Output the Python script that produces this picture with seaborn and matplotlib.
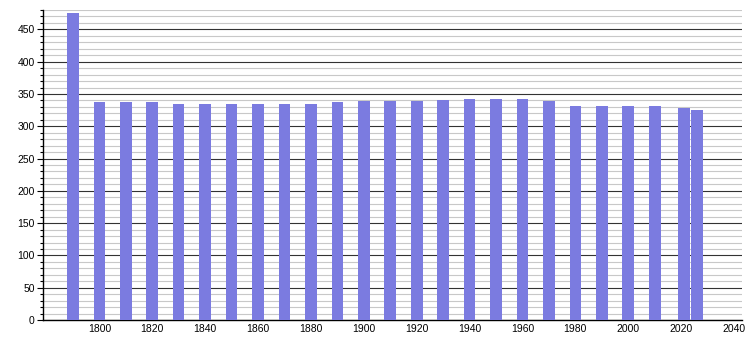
import matplotlib
matplotlib.use("Agg")
import matplotlib.pyplot as plt
import seaborn as sns
import pandas as pd
from matplotlib.ticker import MultipleLocator

years = [1790, 1800, 1810, 1820, 1830, 1840, 1850, 1860, 1870, 1880, 1890,
         1900, 1910, 1920, 1930, 1940, 1950, 1960, 1970, 1980, 1990, 2000,
         2010, 2021, 2026]
population = [475, 337, 337, 337, 335, 335, 335, 335, 335, 335, 337,
              339, 339, 339, 340, 342, 342, 342, 339, 331, 332, 332,
              332, 328, 325]
x_ticks = [1800, 1820, 1840, 1860, 1880, 1900, 1920, 1940, 1960, 1980, 2000, 2020, 2040]

df = pd.DataFrame({"year": years, "pop": population})

sns.set_style("white")
plt.rcParams["font.family"] = ["Liberation Sans", "DejaVu Sans"]

fig = plt.figure(figsize=(7.5, 3.4), dpi=100)
ax = fig.add_axes([43 / 750, 20 / 340, (742 - 43) / 750, (320 - 10) / 340])

sns.barplot(data=df, x="year", y="pop", native_scale=True, width=0.88,
            color="#7b7be0", saturation=1, edgecolor="none", linewidth=0, ax=ax, zorder=3)

ax.set_xlim(1778.7, 2043)
ax.set_ylim(0, 480)
ax.yaxis.set_major_locator(MultipleLocator(50))
ax.yaxis.set_minor_locator(MultipleLocator(10))
ax.set_xticks(x_ticks)
ax.set_xticklabels([str(t) for t in x_ticks])

ax.grid(which="minor", axis="y", color="#c8c8c8", linewidth=0.8, zorder=0)
ax.grid(which="major", axis="y", color="#333333", linewidth=0.8, zorder=1)
ax.grid(False, axis="x")
ax.set_axisbelow(True)

for s in ["top", "right"]:
    ax.spines[s].set_visible(False)
for s in ["left", "bottom"]:
    ax.spines[s].set_color("black")
    ax.spines[s].set_linewidth(1)

ax.tick_params(axis="y", which="major", left=True, length=4, width=0.8, labelsize=7.5, pad=2,
               color="black", labelcolor="black")
ax.tick_params(axis="y", which="minor", left=True, length=2, width=0.8, color="black")
ax.tick_params(axis="x", which="both", bottom=False, length=0, labelsize=7.5, pad=3, labelcolor="black")
ax.set_xlabel("")
ax.set_ylabel("")

fig.savefig("out.png", dpi=100)
